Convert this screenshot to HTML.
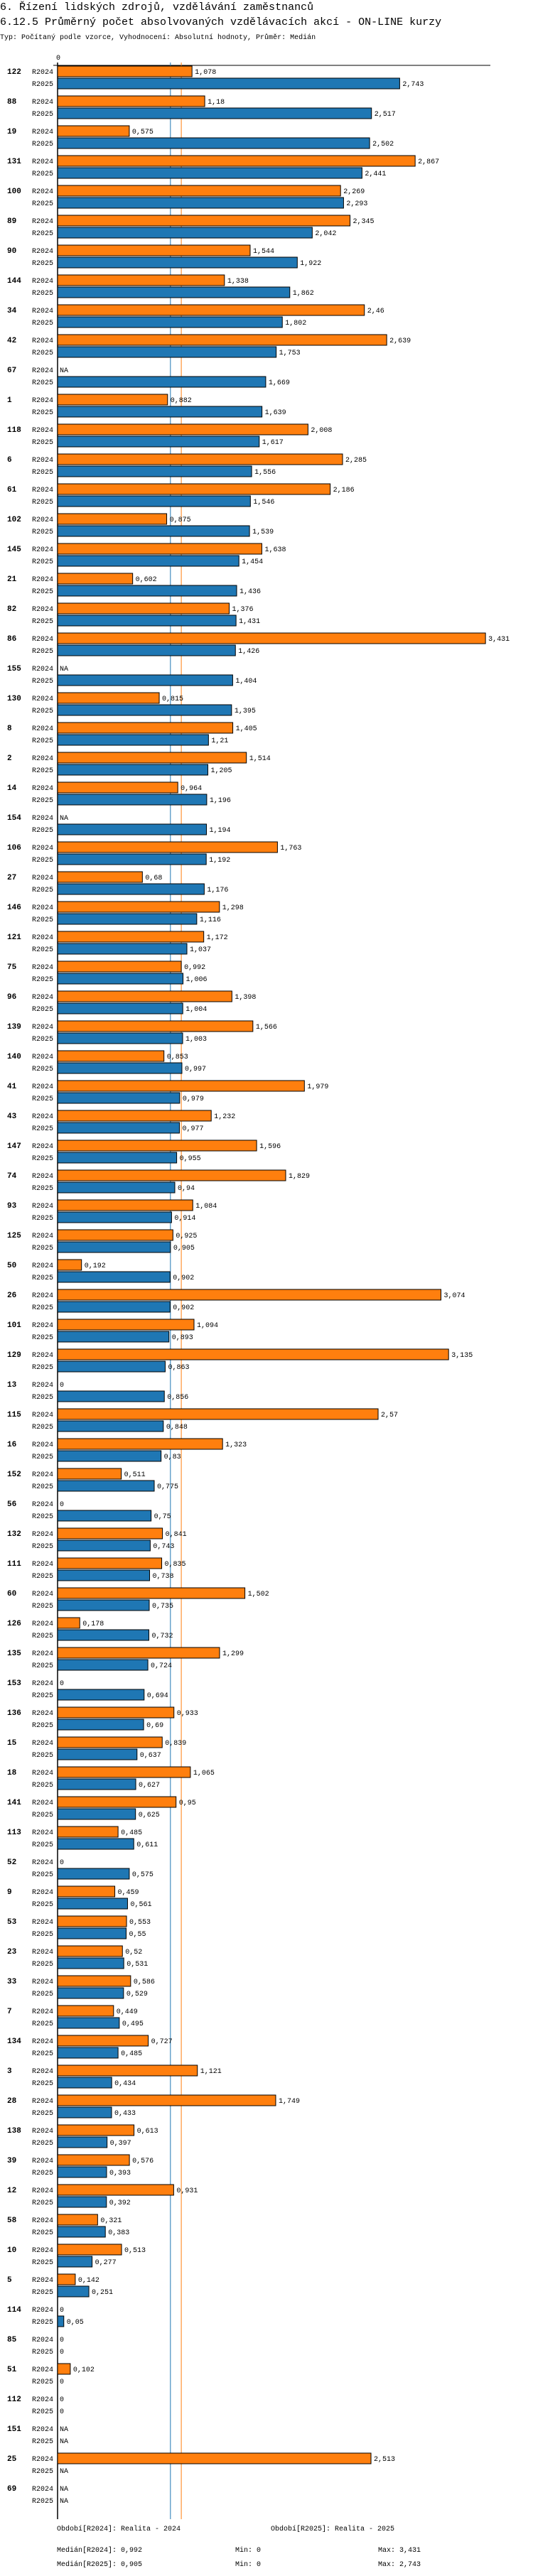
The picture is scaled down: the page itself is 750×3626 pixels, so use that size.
<!DOCTYPE html>
<html><head><meta charset="utf-8">
<style>
html,body{margin:0;padding:0;background:#fff;width:750px;height:3626px;overflow:hidden}
svg text{font-family:"Liberation Mono",monospace;fill:#000}
</style></head>
<body>
<svg id="chart" width="750" height="3626" xmlns="http://www.w3.org/2000/svg">
<text x="0" y="14" font-size="15">6. Řízení lidských zdrojů, vzdělávání zaměstnanců</text>
<text x="0" y="35" font-size="15">6.12.5 Průměrný počet absolvovaných vzdělávacích akcí - ON-LINE kurzy</text>
<text x="0" y="55" font-size="10">Typ: Počítaný podle vzorce, Vyhodnocení: Absolutní hodnoty, Průměr: Medián</text>
<g id="plot"></g>
<g font-size="10">
<text x="80" y="3562">Období[R2024]: Realita - 2024</text>
<text x="381" y="3562">Období[R2025]: Realita - 2025</text>
<text x="80" y="3592">Medián[R2024]: 0,992</text>
<text x="331" y="3592">Min: 0</text>
<text x="532" y="3592">Max: 3,431</text>
<text x="80" y="3612">Medián[R2025]: 0,905</text>
<text x="331" y="3612">Min: 0</text>
<text x="532" y="3612">Max: 2,743</text>
</g>
</svg>
<script>
const categories = ["122","88","19","131","100","89","90","144","34","42","67","1","118","6","61","102","145","21","82","86","155","130","8","2","14","154","106","27","146","121","75","96","139","140","41","43","147","74","93","125","50","26","101","129","13","115","16","152","56","132","111","60","126","135","153","136","15","18","141","113","52","9","53","23","33","7","134","3","28","138","39","12","58","10","5","114","85","51","112","151","25","69"];
const r2024 = [1.078,1.18,0.575,2.867,2.269,2.345,1.544,1.338,2.46,2.639,null,0.882,2.008,2.285,2.186,0.875,1.638,0.602,1.376,3.431,null,0.815,1.405,1.514,0.964,null,1.763,0.68,1.298,1.172,0.992,1.398,1.566,0.853,1.979,1.232,1.596,1.829,1.084,0.925,0.192,3.074,1.094,3.135,0,2.57,1.323,0.511,0,0.841,0.835,1.502,0.178,1.299,0,0.933,0.839,1.065,0.95,0.485,0,0.459,0.553,0.52,0.586,0.449,0.727,1.121,1.749,0.613,0.576,0.931,0.321,0.513,0.142,0,0,0.102,0,null,2.513,null];
const r2025 = [2.743,2.517,2.502,2.441,2.293,2.042,1.922,1.862,1.802,1.753,1.669,1.639,1.617,1.556,1.546,1.539,1.454,1.436,1.431,1.426,1.404,1.395,1.21,1.205,1.196,1.194,1.192,1.176,1.116,1.037,1.006,1.004,1.003,0.997,0.979,0.977,0.955,0.94,0.914,0.905,0.902,0.902,0.893,0.863,0.856,0.848,0.83,0.775,0.75,0.743,0.738,0.735,0.732,0.724,0.694,0.69,0.637,0.627,0.625,0.611,0.575,0.561,0.55,0.531,0.529,0.495,0.485,0.434,0.433,0.397,0.393,0.392,0.383,0.277,0.251,0.05,0,0,0,null,null,null];
const medians = [0.992, 0.905];
const seriesNames = ["R2024","R2025"];

const NS="http://www.w3.org/2000/svg";
const X0=81, PX=175.5, TOP=93, PITCH=42, ROWOFF=17, BH=15;
const xs=v=>X0+v*PX;
const ys=(i,s)=>TOP+i*PITCH+s*ROWOFF;
const plot=document.getElementById('plot');
function mk(tag,attrs,txt){const e=document.createElementNS(NS,tag);for(const k in attrs)e.setAttribute(k,attrs[k]);if(txt!=null)e.textContent=txt;plot.appendChild(e);return e;}
const fmt=v=>String(v).replace('.',',');
const bottom=ys(categories.length-1,1)+BH+19;

let t=mk('text',{x:X0-2,y:84,'font-size':10},'0');


let l=mk('line',{x1:75,x2:690,y1:92,y2:92,stroke:'#000','stroke-width':1});


const mcol=['#ff7f0e','#1f77b4'];
medians.forEach((m,s)=>{
  const ml=mk('line',{x1:xs(m),x2:xs(m),y1:88,y2:bottom,stroke:mcol[s],'stroke-width':1});
  
  
});
const ax=mk('line',{x1:X0,x2:X0,y1:88,y2:bottom,stroke:'#000','stroke-width':1.5});



categories.forEach((c,i)=>{
  const g=mk('text',{x:10,y:ys(i,0)+11,'font-size':11,'font-weight':'bold'},c);
  
  
  [r2024,r2025].forEach((arr,s)=>{
    const y=ys(i,s), v=arr[i];
    const sl=mk('text',{x:75,y:y+11,'font-size':10,'text-anchor':'end'},seriesNames[s]);
    
    
    let endx=X0+3;
    if(v!=null && v>0){
      const r=mk('rect',{x:X0,y:y,width:xs(v)-X0,height:BH,fill:mcol[s],stroke:'#000','stroke-width':1});
      
      
      endx=xs(v)+4;
    }
    const vl=mk('text',{x:endx,y:y+11,'font-size':10},v==null?'NA':fmt(v));
    
    
  });
});
</script>
</body></html>
